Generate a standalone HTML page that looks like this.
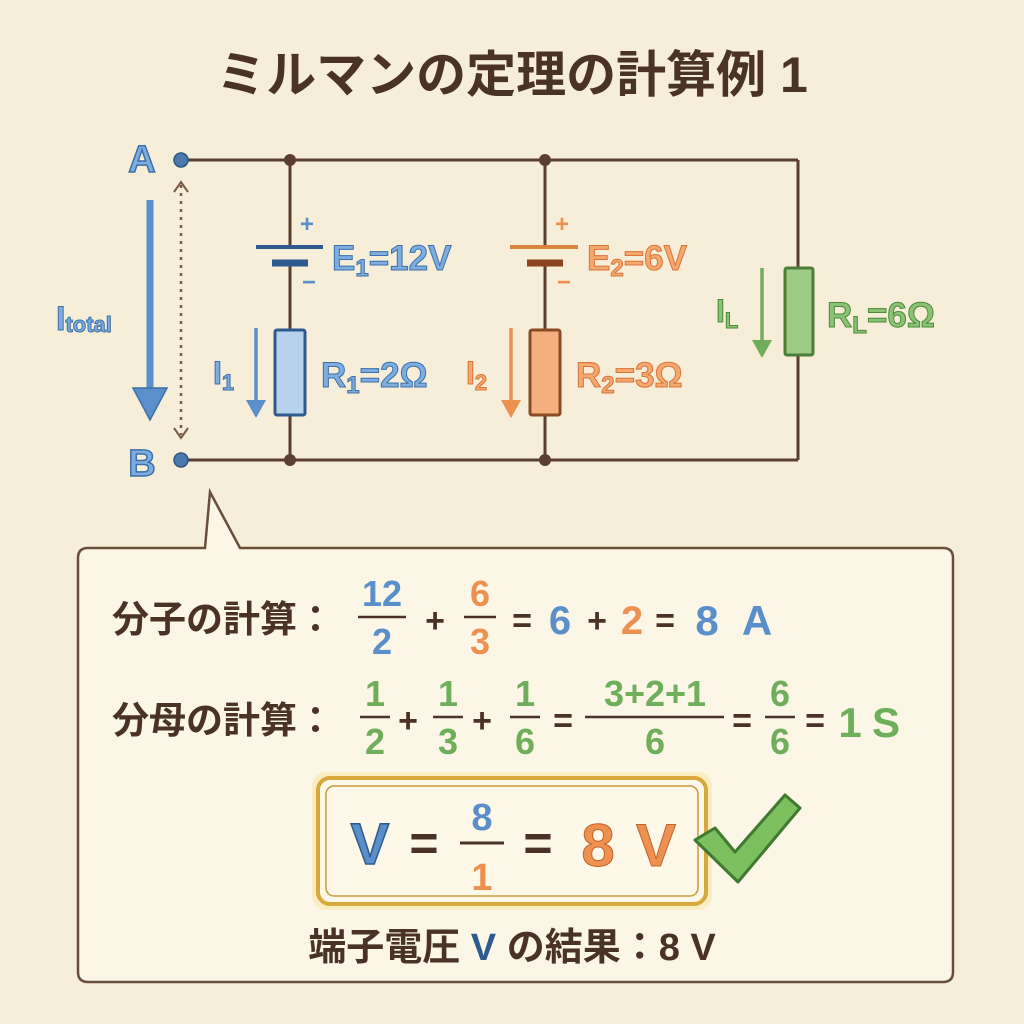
<!DOCTYPE html>
<html><head><meta charset="utf-8"><style>
html,body{margin:0;padding:0;background:#f6eed8}
svg{display:block}
text{font-family:"Liberation Sans","Noto Sans CJK JP",sans-serif;font-weight:bold}
</style></head><body>
<svg width="1024" height="1024" viewBox="0 0 1024 1024" xmlns="http://www.w3.org/2000/svg">
<rect width="1024" height="1024" fill="#f6eed8"/>
<text x="512" y="92" text-anchor="middle" font-size="50" fill="#4a3324">ミルマンの定理の計算例 1</text>

<g stroke="#5a3f2e" stroke-width="3" fill="none">
<line x1="182" y1="160" x2="798" y2="160"/>
<line x1="182" y1="460" x2="798" y2="460"/>
<line x1="798" y1="160" x2="798" y2="268"/>
<line x1="798" y1="355" x2="798" y2="460"/>
<line x1="290" y1="160" x2="290" y2="247"/>
<line x1="290" y1="263" x2="290" y2="330"/>
<line x1="290" y1="415" x2="290" y2="460"/>
<line x1="545" y1="160" x2="545" y2="247"/>
<line x1="545" y1="263" x2="545" y2="330"/>
<line x1="545" y1="415" x2="545" y2="460"/>
</g>
<g fill="#5a3f2e"><circle cx="290" cy="160" r="6"/><circle cx="545" cy="160" r="6"/><circle cx="290" cy="460" r="6"/><circle cx="545" cy="460" r="6"/></g>
<circle cx="181" cy="160" r="7" fill="#4a7ab0" stroke="#2f5580" stroke-width="1.5"/>
<circle cx="181" cy="460" r="7" fill="#4a7ab0" stroke="#2f5580" stroke-width="1.5"/>
<text x="142" y="172" text-anchor="middle" font-size="38" fill="#7eaee0" stroke="#3d6fa8" stroke-width="1.5">A</text>
<text x="142" y="476" text-anchor="middle" font-size="38" fill="#7eaee0" stroke="#3d6fa8" stroke-width="1.5">B</text>

<line x1="150" y1="200" x2="150" y2="395" stroke="#5b8fc9" stroke-width="7"/>
<polygon points="133,388 167,388 150,420" fill="#5b8fc9" stroke="#3d6fa8" stroke-width="1.5"/>
<text x="56" y="330" font-size="34" fill="#7eaee0" stroke="#3d6fa8" stroke-width="1">I<tspan font-size="22" dy="2">total</tspan></text>
<line x1="181" y1="185" x2="181" y2="435" stroke="#7a5a44" stroke-width="2.5" stroke-dasharray="3,5"/>
<polyline points="174,192 181,182 188,192" fill="none" stroke="#7a5a44" stroke-width="2"/>
<polyline points="174,428 181,438 188,428" fill="none" stroke="#7a5a44" stroke-width="2"/>

<line x1="256" y1="247" x2="323" y2="247" stroke="#2f5a8e" stroke-width="4"/>
<line x1="272" y1="263" x2="308" y2="263" stroke="#2f5a8e" stroke-width="7"/>
<text x="300" y="232" font-size="24" fill="#5b8fc9">+</text>
<text x="302" y="290" font-size="24" fill="#5b8fc9">−</text>
<text x="332" y="270" font-size="35" fill="#7eaee0" stroke="#3d6fa8" stroke-width="1">E<tspan font-size="24" dy="6">1</tspan><tspan dy="-6">=12V</tspan></text>
<rect x="275" y="330" width="30" height="85" fill="#b8d2ee" stroke="#2f5a8e" stroke-width="3" rx="2"/>
<line x1="256" y1="328" x2="256" y2="405" stroke="#5b8fc9" stroke-width="3.5"/>
<polygon points="246,400 266,400 256,418" fill="#5b8fc9"/>
<text x="213" y="384" font-size="32" fill="#7eaee0" stroke="#3d6fa8" stroke-width="1">I<tspan font-size="22" dy="6">1</tspan></text>
<text x="321" y="387" font-size="35" fill="#7eaee0" stroke="#3d6fa8" stroke-width="1">R<tspan font-size="24" dy="6">1</tspan><tspan dy="-6">=2Ω</tspan></text>

<line x1="510" y1="247" x2="578" y2="247" stroke="#d9843f" stroke-width="4"/>
<line x1="527" y1="263" x2="563" y2="263" stroke="#8a4420" stroke-width="7"/>
<text x="555" y="232" font-size="24" fill="#ee9050">+</text>
<text x="557" y="290" font-size="24" fill="#ee9050">−</text>
<text x="587" y="270" font-size="35" fill="#f5a86e" stroke="#d9743a" stroke-width="1">E<tspan font-size="24" dy="6">2</tspan><tspan dy="-6">=6V</tspan></text>
<rect x="530" y="330" width="30" height="85" fill="#f3b07e" stroke="#8a4a25" stroke-width="3" rx="2"/>
<line x1="511" y1="328" x2="511" y2="405" stroke="#ee9050" stroke-width="3.5"/>
<polygon points="501,400 521,400 511,418" fill="#ee9050"/>
<text x="466" y="384" font-size="32" fill="#f5a86e" stroke="#d9743a" stroke-width="1">I<tspan font-size="22" dy="6">2</tspan></text>
<text x="576" y="387" font-size="35" fill="#f5a86e" stroke="#d9743a" stroke-width="1">R<tspan font-size="24" dy="6">2</tspan><tspan dy="-6">=3Ω</tspan></text>

<rect x="785" y="268" width="28" height="87" fill="#9fcc85" stroke="#4a7e3a" stroke-width="3" rx="2"/>
<line x1="762" y1="268" x2="762" y2="345" stroke="#6fae5a" stroke-width="3.5"/>
<polygon points="752,340 772,340 762,358" fill="#6fae5a"/>
<text x="716" y="322" font-size="32" fill="#8cc275" stroke="#4a8a3a" stroke-width="1">I<tspan font-size="22" dy="6">L</tspan></text>
<text x="827" y="327" font-size="35" fill="#8cc275" stroke="#4a8a3a" stroke-width="1">R<tspan font-size="24" dy="6">L</tspan><tspan dy="-6">=6Ω</tspan></text>

<path d="M88,548 H205 L210,492 L240,548 H943 Q953,548 953,558 V972 Q953,982 943,982 H88 Q78,982 78,972 V558 Q78,548 88,548 Z" fill="#fbf6e6" stroke="#6a4e3c" stroke-width="2.5"/>

<g font-size="34">
<text x="112" y="632" fill="#4a3324" font-size="37">分子の計算：</text>
<g fill="#5b8fc9" text-anchor="middle" font-size="36">
<text x="382" y="606">12</text><text x="382" y="654">2</text>
</g>
<line x1="358" y1="617" x2="406" y2="617" stroke="#4a3324" stroke-width="2.5"/>
<text x="435" y="632" text-anchor="middle" fill="#4a3324">+</text>
<g fill="#ee9050" text-anchor="middle" font-size="36"><text x="480" y="606">6</text><text x="480" y="654">3</text></g>
<line x1="464" y1="617" x2="496" y2="617" stroke="#4a3324" stroke-width="2.5"/>
<text x="522" y="632" text-anchor="middle" fill="#4a3324">=</text>
<text x="560" y="634" text-anchor="middle" font-size="40" fill="#5b8fc9">6</text>
<text x="597" y="632" text-anchor="middle" fill="#4a3324">+</text>
<text x="632" y="634" text-anchor="middle" font-size="40" fill="#ee9050">2</text>
<text x="665" y="632" text-anchor="middle" fill="#4a3324">=</text>
<text x="707" y="635" text-anchor="middle" font-size="42" fill="#5b8fc9">8</text>
<text x="757" y="635" text-anchor="middle" font-size="42" fill="#5b8fc9">A</text>
</g>

<g font-size="34">
<text x="112" y="733" fill="#4a3324" font-size="37">分母の計算：</text>
<g fill="#6fae5a" text-anchor="middle" font-size="36">
<text x="375" y="706">1</text><text x="375" y="754">2</text>
<text x="448" y="706">1</text><text x="448" y="754">3</text>
<text x="525" y="706">1</text><text x="525" y="754">6</text>
<text x="655" y="706">3+2+1</text><text x="655" y="754">6</text>
<text x="780" y="706">6</text><text x="780" y="754">6</text>
</g>
<g stroke="#4a3324" stroke-width="2.5">
<line x1="360" y1="717" x2="390" y2="717"/>
<line x1="433" y1="717" x2="463" y2="717"/>
<line x1="510" y1="717" x2="540" y2="717"/>
<line x1="585" y1="717" x2="724" y2="717"/>
<line x1="765" y1="717" x2="795" y2="717"/>
</g>
<text x="408" y="732" text-anchor="middle" fill="#4a3324">+</text>
<text x="482" y="732" text-anchor="middle" fill="#4a3324">+</text>
<text x="563" y="732" text-anchor="middle" fill="#4a3324">=</text>
<text x="742" y="732" text-anchor="middle" fill="#4a3324">=</text>
<text x="815" y="732" text-anchor="middle" fill="#4a3324">=</text>
<text x="850" y="737" text-anchor="middle" font-size="42" fill="#6fae5a">1</text>
<text x="886" y="737" text-anchor="middle" font-size="42" fill="#6fae5a">S</text>
</g>

<rect x="312" y="772" width="400" height="138" rx="14" fill="#f8e7a8" opacity="0.6"/>
<rect x="318" y="778" width="388" height="126" rx="12" fill="#fdf8e8" stroke="#d8a83a" stroke-width="4"/>
<rect x="326" y="786" width="372" height="110" rx="8" fill="none" stroke="#c89a3a" stroke-width="1.5"/>
<text x="370" y="864" text-anchor="middle" font-size="58" fill="#5b8fc9" stroke="#2f5a8e" stroke-width="1.5">V</text>
<text x="424" y="860" text-anchor="middle" font-size="50" fill="#4a3324">=</text>
<text x="482" y="830" text-anchor="middle" font-size="38" fill="#5b8fc9">8</text>
<text x="482" y="890" text-anchor="middle" font-size="38" fill="#ee9050">1</text>
<line x1="460" y1="843" x2="504" y2="843" stroke="#4a3324" stroke-width="3"/>
<text x="538" y="860" text-anchor="middle" font-size="50" fill="#4a3324">=</text>
<text x="598" y="866" text-anchor="middle" font-size="60" fill="#ee9050" stroke="#c0642a" stroke-width="1">8</text>
<text x="656" y="866" text-anchor="middle" font-size="60" fill="#ee9050" stroke="#c0642a" stroke-width="1">V</text>

<path d="M695,840 L715,828 L735,852 L785,795 L800,808 L738,882 Z" fill="#7cbf5e" stroke="#3f7a30" stroke-width="3" stroke-linejoin="round"/>

<text x="512" y="960" text-anchor="middle" font-size="38" fill="#4a3324">端子電圧 <tspan fill="#2f5a8e">V</tspan> の結果：8 V</text>
</svg>
</body></html>
